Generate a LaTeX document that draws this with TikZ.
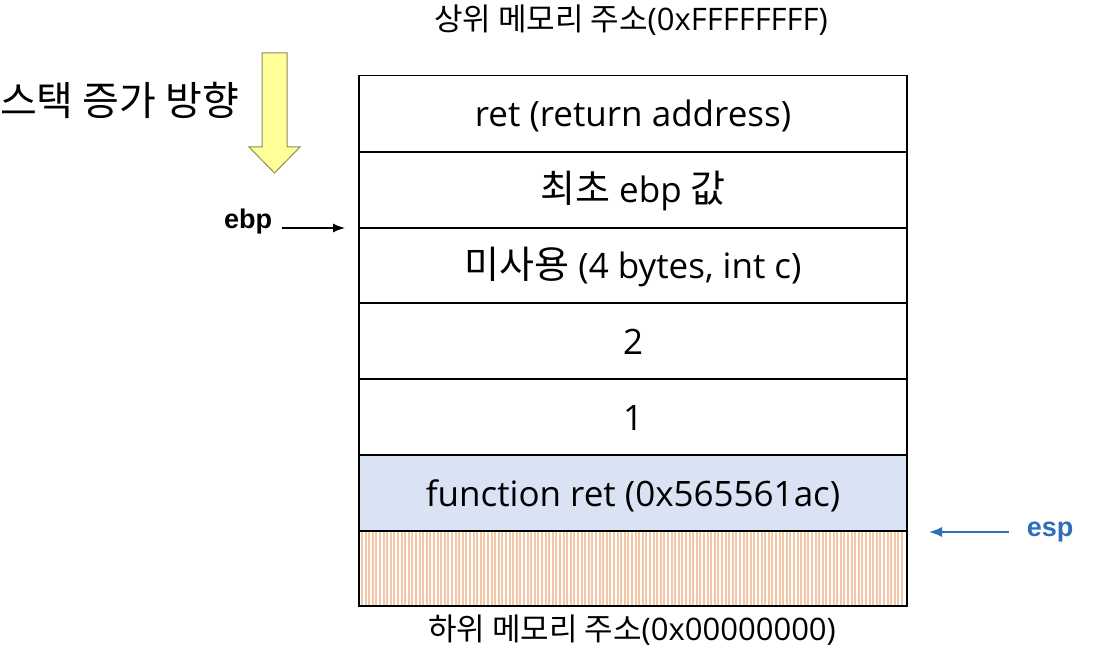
\documentclass[tikz,border=0pt]{standalone}
\usepackage{fontspec}
\usetikzlibrary{arrows.meta}
\setmainfont{Open Sans}
\newfontfamily\kr{Noto Sans CJK KR}
\newfontfamily\arl{Liberation Sans}
\newcommand{\krbig}[1]{{\kr\fontsize{38}{40}\selectfont #1}}
\definecolor{rowblue}{HTML}{DAE3F3}
\definecolor{stripe}{HTML}{F4C6A6}
\definecolor{espblue}{HTML}{2F6EBA}
\definecolor{yel}{HTML}{FFFF99}
\definecolor{yelborder}{HTML}{8C8C5A}
\begin{document}
\begin{tikzpicture}[x=1pt,y=-1pt,
  row/.style={draw=black,line width=1.6pt,minimum width=548pt,minimum height=76pt,inner sep=0pt,outer sep=0pt,text height=30pt,text depth=4pt,font=\fontsize{35}{38}\selectfont},
  lbl/.style={inner sep=0pt,font=\fontsize{31}{34}\selectfont}]
\useasboundingbox (0,0) rectangle (1100,652);
% stripes region
\node[row,draw=none,minimum height=75pt] (r8) at (633,568.5) {};
\foreach \xx in {362,365.6,...,905} {\draw[stripe,line width=2pt] (\xx,532) -- (\xx,605);}
\draw[line width=1.6pt] (r8.north west) rectangle (r8.south east);
\node[row,minimum height=76pt] (r1) at (633,113.5) {ret (return address)};
\node[row] (r2) at (633,190) {\krbig{최초} ebp \krbig{값}};
\node[row,minimum height=75pt] (r3) at (633,265.5) {\krbig{미사용} (4 bytes, int c)};
\node[row] (r4) at (633,341) {2};
\node[row] (r5) at (633,417) {1};
\node[row,fill=rowblue,minimum height=75pt] (r7) at (633,493) {function ret (0x565561ac)};
\draw[line width=2.8pt] (r3.south west) -- (r3.south east);
% labels
\node[lbl] (top) at (631,20) {{\kr 상위 메모리 주소}(0xFFFFFFFF)};
\node[lbl] (bot) at (632,630) {{\kr 하위 메모리 주소}(0x00000000)};
\node[inner sep=0pt,font=\kr\fontsize{40}{42}\selectfont,anchor=west] (grow) at (0,100) {스택 증가 방향};
% yellow arrow
\draw[fill=yel,draw=yelborder,line width=1pt] (262,53) -- (287,53) -- (287,147) -- (300,147) -- (274.5,173) -- (249,147) -- (262,147) -- cycle;
% ebp
\node[inner sep=0pt,font=\arl\bfseries\fontsize{27}{29}\selectfont] (ebp) at (248,222) {ebp};
\coordinate (ebpend) at (345,228);
\draw[-{Latex[length=12pt,width=9pt]},line width=1.3pt] (282,228) -- (ebpend);
% esp
\node[inner sep=0pt,font=\arl\bfseries\fontsize{27}{29}\selectfont,text=espblue] (esp) at (1050,532) {esp};
\coordinate (espend) at (929,532);
\draw[-{Latex[length=13pt,width=10pt]},line width=1.5pt,espblue] (1009,532) -- (espend);
\end{tikzpicture}
\end{document}
